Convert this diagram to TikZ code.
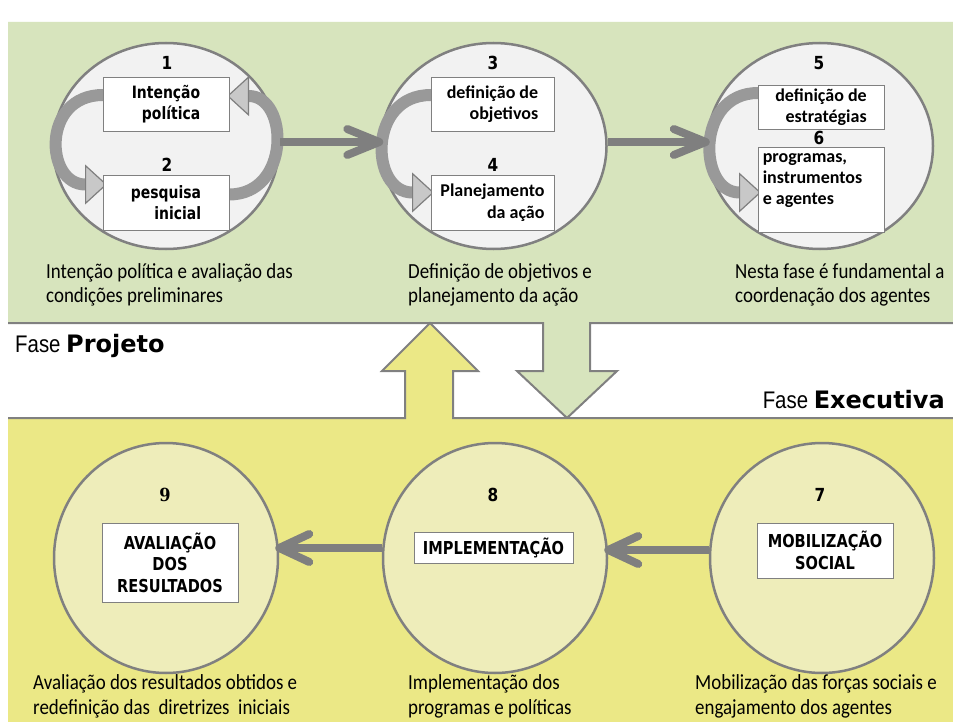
\documentclass[tikz,border=0pt]{standalone}
\usepackage{fontspec}
\setmainfont{Carlito}
\newfontfamily\capfont{Carlito}[FakeStretch=0.88]
\newfontfamily\dvs{DejaVu Sans}[FakeStretch=0.82]
\newfontfamily\dvsn{DejaVu Sans}[FakeStretch=0.85]
\newfontfamily\dvserif{DejaVu Serif}[FakeStretch=0.9]
\newfontfamily\faseA{Liberation Sans}[FakeStretch=0.85]
\newfontfamily\faseB{DejaVu Sans}
\usetikzlibrary{shapes.geometric,arrows.meta,calc}
\definecolor{bandgreen}{HTML}{D7E4BD}
\definecolor{bandyellow}{HTML}{EBE886}
\definecolor{circgray}{HTML}{F2F2F2}
\definecolor{circyellow}{HTML}{EEEDBA}
\definecolor{edgegray}{HTML}{808080}
\definecolor{arrowgray}{HTML}{7F7F7F}
\definecolor{bandarrow}{HTML}{999999}
\definecolor{headfill}{HTML}{C8C8C8}
\tikzset{
  topcirc/.style={ellipse, draw=edgegray, line width=2.5pt, fill=circgray,
    minimum width=226pt, minimum height=206pt, inner sep=0pt},
  botcirc/.style={ellipse, draw=edgegray, line width=2.5pt, fill=circyellow,
    minimum width=224pt, minimum height=230pt, inner sep=0pt},
  boxbase/.style={draw=edgegray, line width=0.8pt, fill=white, inner sep=0pt},
  boxA/.style={boxbase, align=right, font=\dvs\bfseries\fontsize{17}{21.5}\selectfont},
  boxB/.style={boxbase, align=right, font=\bfseries\fontsize{18}{21.5}\selectfont},
  boxC/.style={boxbase, align=center, font=\dvs\bfseries\fontsize{17.8}{21.5}\selectfont},
  num/.style={inner sep=0pt, font=\dvsn\bfseries\fontsize{18}{18}\selectfont},
  caption/.style={inner sep=0pt, anchor=west, align=left, font=\capfont\fontsize{21.5}{24.5}\selectfont},
  outline/.style={draw=edgegray, line width=2pt, line join=miter},
  linkshaft/.style={draw=arrowgray, line width=8pt},
  linkhead/.style={draw=arrowgray, line width=8pt, line cap=round, line join=round},
  curv/.style={draw=bandarrow, line width=12pt,
    -{Triangle[length=22pt,width=40pt,fill=headfill,color=arrowgray,line width=1.2pt]}},
  fase/.style={inner sep=0pt, font=\faseA\fontsize{24}{24}\selectfont}
}
\begin{document}
\begin{tikzpicture}[x=1pt,y=-1pt]
\useasboundingbox (0,0) rectangle (953,722);
\fill[white] (0,0) rectangle (953,722);
% bands
\fill[bandgreen] (8,22) -- (953,22) -- (953,323) -- (590,323) -- (590,371) -- (617,371)
  -- (567,418) -- (517,371) -- (543,371) -- (543,323) -- (8,323) -- cycle;
\draw[outline] (8,323) -- (543,323) -- (543,371) -- (517,371) -- (567,418) -- (617,371)
  -- (590,371) -- (590,323) -- (953,323);
\fill[bandyellow] (8,418) -- (405,418) -- (405,371) -- (382,371) -- (430,323) -- (478,371)
  -- (453,371) -- (453,418) -- (953,418) -- (953,722) -- (8,722) -- cycle;
\draw[outline] (8,418) -- (405,418) -- (405,371) -- (382,371) -- (430,323) -- (478,371)
  -- (453,371) -- (453,418) -- (953,418);
% circles
\node[topcirc] (c1) at (166,146) {};
\node[topcirc] (c2) at (493.5,146) {};
\node[topcirc] (c3) at (820,146) {};
\node[botcirc] (c9) at (166,558) {};
\node[botcirc] (c8) at (495,558) {};
\node[botcirc] (c7) at (822,558) {};
% box coordinates
\coordinate (p1) at (166,104);
\coordinate (p2) at (166,202.5);
\coordinate (p3) at (492.5,104);
\coordinate (p4) at (492.5,202.5);
\coordinate (p5) at (821,107);
\coordinate (p6) at (821,189.5);
% curved arrows (drawn before boxes)
\draw[curv] ([yshift=9pt]p1 -| 103,0) .. controls +(-62,0) and +(-62,0) .. ([yshift=18pt,xshift=4pt]p2 -| 103,0);
\draw[curv] ([yshift=8pt]p2 -| 229,0) .. controls +(62,0) and +(62,0) .. ([yshift=8pt,xshift=-2pt]p1 -| 229,0);
\draw[curv] ([yshift=9pt]p3 -| 431,0) .. controls +(-64,0) and +(-64,0) .. ([yshift=10pt,xshift=3pt]p4 -| 431,0);
\draw[curv] ([yshift=14pt]p5 -| 758,0) .. controls +(-63,0) and +(-63,0) .. ([yshift=-3pt,xshift=3pt]p6 -| 758,0);
% boxes
\node[boxA, minimum width=126pt, minimum height=54pt] (b1) at (p1) {Intenção\\política};
\node[boxA, minimum width=126pt, minimum height=55pt] (b2) at (p2) {pesquisa\\inicial};
\node[boxB, minimum width=123pt, minimum height=54pt] (b3) at (p3) {definição de\\objetivos};
\node[boxB, minimum width=123pt, minimum height=55pt] (b4) at (p4) {Planejamento\\da ação};
\node[boxB, minimum width=126pt, minimum height=44pt] (b5) at (p5) {definição de\\estratégias};
\node[boxbase, minimum width=126pt, minimum height=85pt] (b6) at (p6) {};
\node[inner sep=0pt, anchor=north west, align=left, font=\bfseries\fontsize{18}{21}\selectfont]
  (t6) at ([xshift=5pt,yshift=-7pt]b6.north west) {programas,\\instrumentos\\e agentes};
\node[boxC, minimum width=136pt, minimum height=79pt] (b9) at (170,562.5) {AVALIAÇÃO\\DOS\\RESULTADOS};
\node[boxC, minimum width=159pt, minimum height=31pt] (b8) at (493.5,547.5) {IMPLEMENTAÇÃO};
\node[boxC, minimum width=136pt, minimum height=55pt] (b7) at (825,550.5) {MOBILIZAÇÃO\\SOCIAL};
% numbers
\node[num] (n1) at (167,63) {1};
\node[num] (n2) at (167,165) {2};
\node[num] (n3) at (493,63) {3};
\node[num] (n4) at (493,165) {4};
\node[num] (n5) at (819,63) {5};
\node[num] (n6) at (819,138) {6};
\node[num, font=\dvserif\bfseries\fontsize{18}{18}\selectfont] (n9) at (165,495) {9};
\node[num] (n8) at (493,495) {8};
\node[num] (n7) at (820,495) {7};
% links between circles
\coordinate (t12) at ([yshift=4pt]c2.west);
\coordinate (t23) at ([yshift=4pt]c3.west);
\draw[linkshaft] (c1.east |- t12) -- (t12);
\draw[linkhead] ($(t12)+(-32,-13)$) -- (t12) -- ($(t12)+(-32,13)$);
\draw[linkshaft] (c2.east |- t23) -- (t23);
\draw[linkhead] ($(t23)+(-32,-13)$) -- (t23) -- ($(t23)+(-32,13)$);
\coordinate (t78) at ([yshift=8pt]c8.east);
\coordinate (t89) at ([yshift=10pt]c9.east);
\draw[linkshaft] (c7.west |- t78) -- (t78);
\draw[linkhead] ($(t78)+(30,-14)$) -- (t78) -- ($(t78)+(30,14)$);
\draw[linkshaft] (c8.west |- t89) -- (t89);
\draw[linkhead] ($(t89)+(30,-14)$) -- (t89) -- ($(t89)+(30,14)$);
% captions
\node[caption] (l1) at (46,285) {Intenção política e avaliação das\\condições preliminares};
\node[caption] (l2) at (408,285) {Definição de objetivos e\\planejamento da ação};
\node[caption] (l3) at (735,285) {Nesta fase é fundamental a\\coordenação dos agentes};
\node[caption] (l9) at (33,696.5) {Avaliação dos resultados obtidos e\\redefinição das~ diretrizes~ iniciais};
\node[caption] (l8) at (408,696.5) {Implementação dos\\programas e políticas};
\node[caption] (l7) at (695,696.5) {Mobilização das forças sociais e\\engajamento dos agentes};
% phase labels
\node[fase, anchor=west] (fp) at (15,346) {Fase {\faseB\bfseries Projeto}};
\node[fase, anchor=east] (fe) at (945,400) {Fase {\faseB\bfseries Executiva}};
\end{tikzpicture}
\end{document}
